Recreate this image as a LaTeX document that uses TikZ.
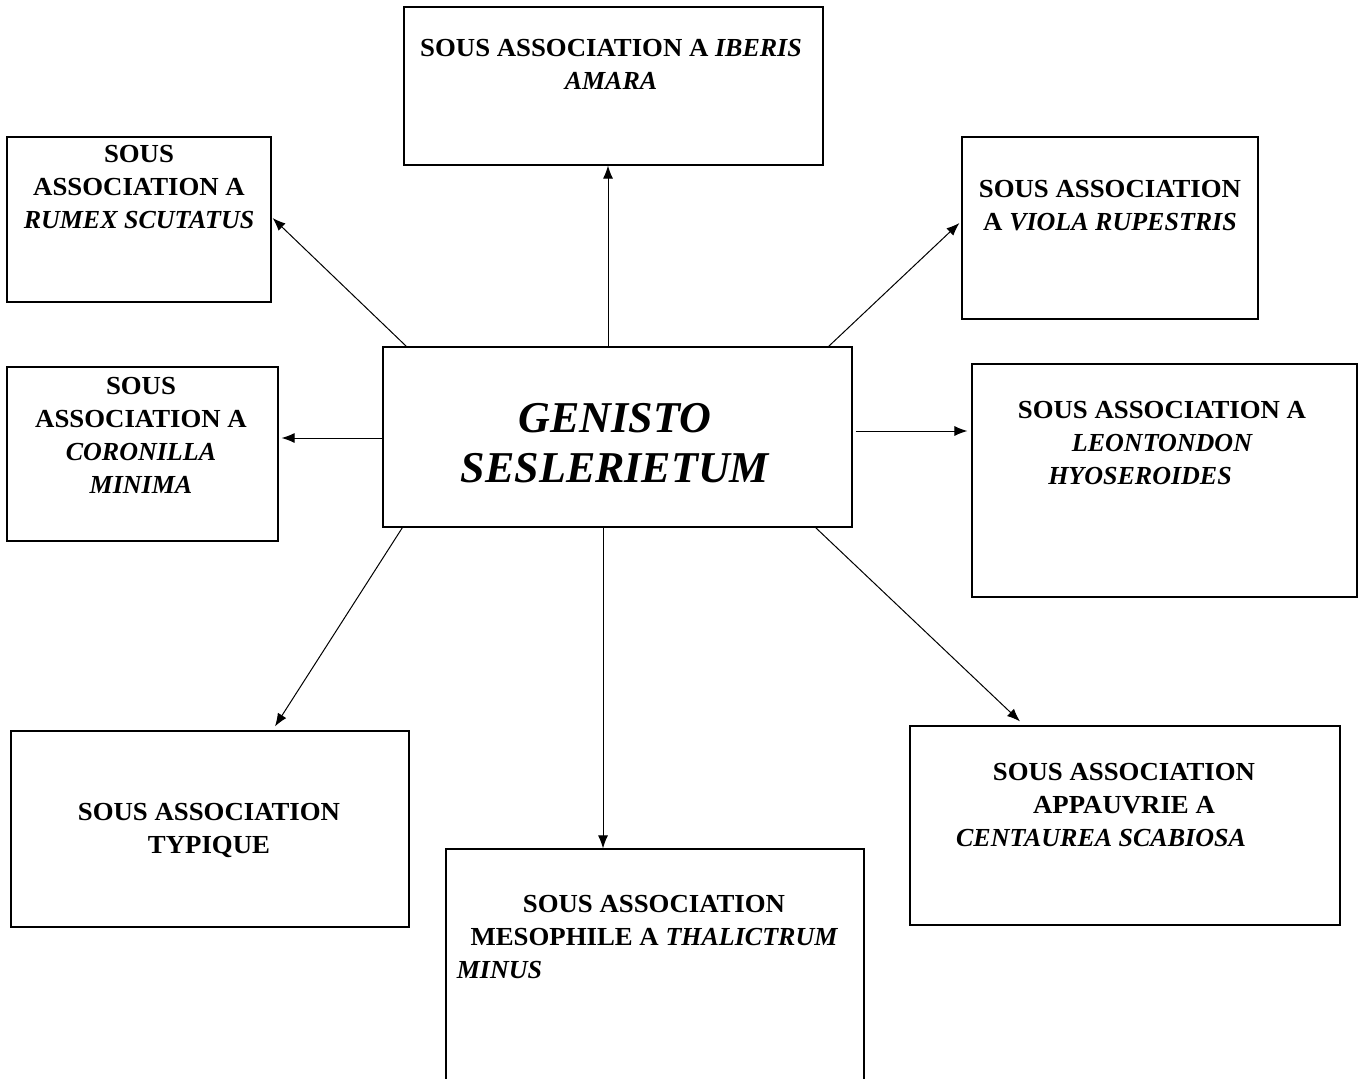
\documentclass[tikz,border=0pt]{standalone}
\usepackage{fontspec}
\setmainfont{Liberation Serif}
\newfontfamily\stretched{Liberation Serif}[FakeStretch=1.03]
\usetikzlibrary{arrows.meta}
\newcommand\spc[1]{{\normalfont\bfseries\itshape #1}}
\tikzset{
  box/.style={draw=black, line width=1.2pt, inner sep=0pt, fill=none},
  lbl/.style={anchor=north, inner sep=0pt, align=center,
    font=\fontsize{26}{33}\stretched\bfseries},
  title/.style={anchor=north, inner sep=0pt, align=center,
    font=\fontsize{44}{50}\selectfont\bfseries\itshape},
  arr/.style={draw=black, line width=1pt, -{Latex[length=13pt,width=10pt]}}
}
\begin{document}
\begin{tikzpicture}[x=1pt,y=-1pt]
\useasboundingbox (0,0) rectangle (1364,1078);
\clip (0,0) rectangle (1364,1078);
\fill[white] (0,0) rectangle (1364,1078);

% boxes
\node[box, minimum width=469pt, minimum height=180pt] (center) at (617.5,437) {};
\node[box, minimum width=419pt, minimum height=158pt] (iberis) at (613.5,86) {};
\node[box, minimum width=264pt, minimum height=165pt] (rumex) at (139,219.5) {};
\node[box, minimum width=271pt, minimum height=174pt] (coronilla) at (142.5,454) {};
\node[box, minimum width=296pt, minimum height=182pt] (viola) at (1110,228) {};
\node[box, minimum width=385pt, minimum height=233pt] (leon) at (1164.5,480.5) {};
\node[box, minimum width=398pt, minimum height=196pt] (typique) at (210,829) {};
\node[box, minimum width=418pt, minimum height=261pt] (thal) at (655,979.5) {};
\node[box, minimum width=430pt, minimum height=199pt] (cent) at (1125,825.5) {};

% texts
\node[title] (center-t) at (615,403) {GENISTO\\SESLERIETUM};
\node[lbl] (iberis-t) at (611,39) {SOUS ASSOCIATION A \spc{IBERIS}\\\spc{AMARA}};
\node[lbl] (rumex-t) at (139,145) {SOUS\\ASSOCIATION A\\\spc{RUMEX SCUTATUS}};
\node[lbl] (coronilla-t) at (141,377) {SOUS\\ASSOCIATION A\\\spc{CORONILLA}\\\spc{MINIMA}};
\node[lbl] (viola-t) at (1110,180) {SOUS ASSOCIATION\\A \spc{VIOLA RUPESTRIS}};
\node[lbl] (leon-t) at (1162,401) {SOUS ASSOCIATION A\\\spc{LEONTONDON}\\\spc{HYOSEROIDES}\hspace*{44pt}};
\node[lbl] (typique-t) at (209,803) {SOUS ASSOCIATION\\TYPIQUE};
\node[lbl] (thal-t) at (654,895) {SOUS ASSOCIATION\\MESOPHILE A \spc{THALICTRUM}\\\spc{MINUS}\hspace*{309pt}};
\node[lbl] (cent-t) at (1124,763) {SOUS ASSOCIATION\\APPAUVRIE A\\\spc{CENTAUREA SCABIOSA}\hspace*{46pt}};

% connectors
\draw[arr] ([xshift=-9.5pt]center.north) -- ([xshift=-5.5pt]iberis.south);
\draw[arr] ([xshift=24pt]center.north west) -- ([xshift=1pt,yshift=1.5pt]rumex.east);
\draw[arr] ([xshift=-24pt]center.north east) -- ([xshift=-2pt,yshift=5pt]viola.west);
\draw[arr] ([yshift=-1pt]center.west) -- ([xshift=3pt,yshift=16pt]coronilla.east);
\draw[arr] ([xshift=3pt,yshift=6pt]center.east) -- ([xshift=-4pt,yshift=49.5pt]leon.west);
\draw[arr] ([xshift=20pt]center.south west) -- ([xshift=65pt,yshift=4pt]typique.north);
\draw[arr] ([xshift=-14.5pt]center.south) -- ([xshift=-52pt]thal.north);
\draw[arr] ([xshift=-37pt]center.south east) -- ([xshift=-105pt,yshift=4pt]cent.north);
\end{tikzpicture}
\end{document}
